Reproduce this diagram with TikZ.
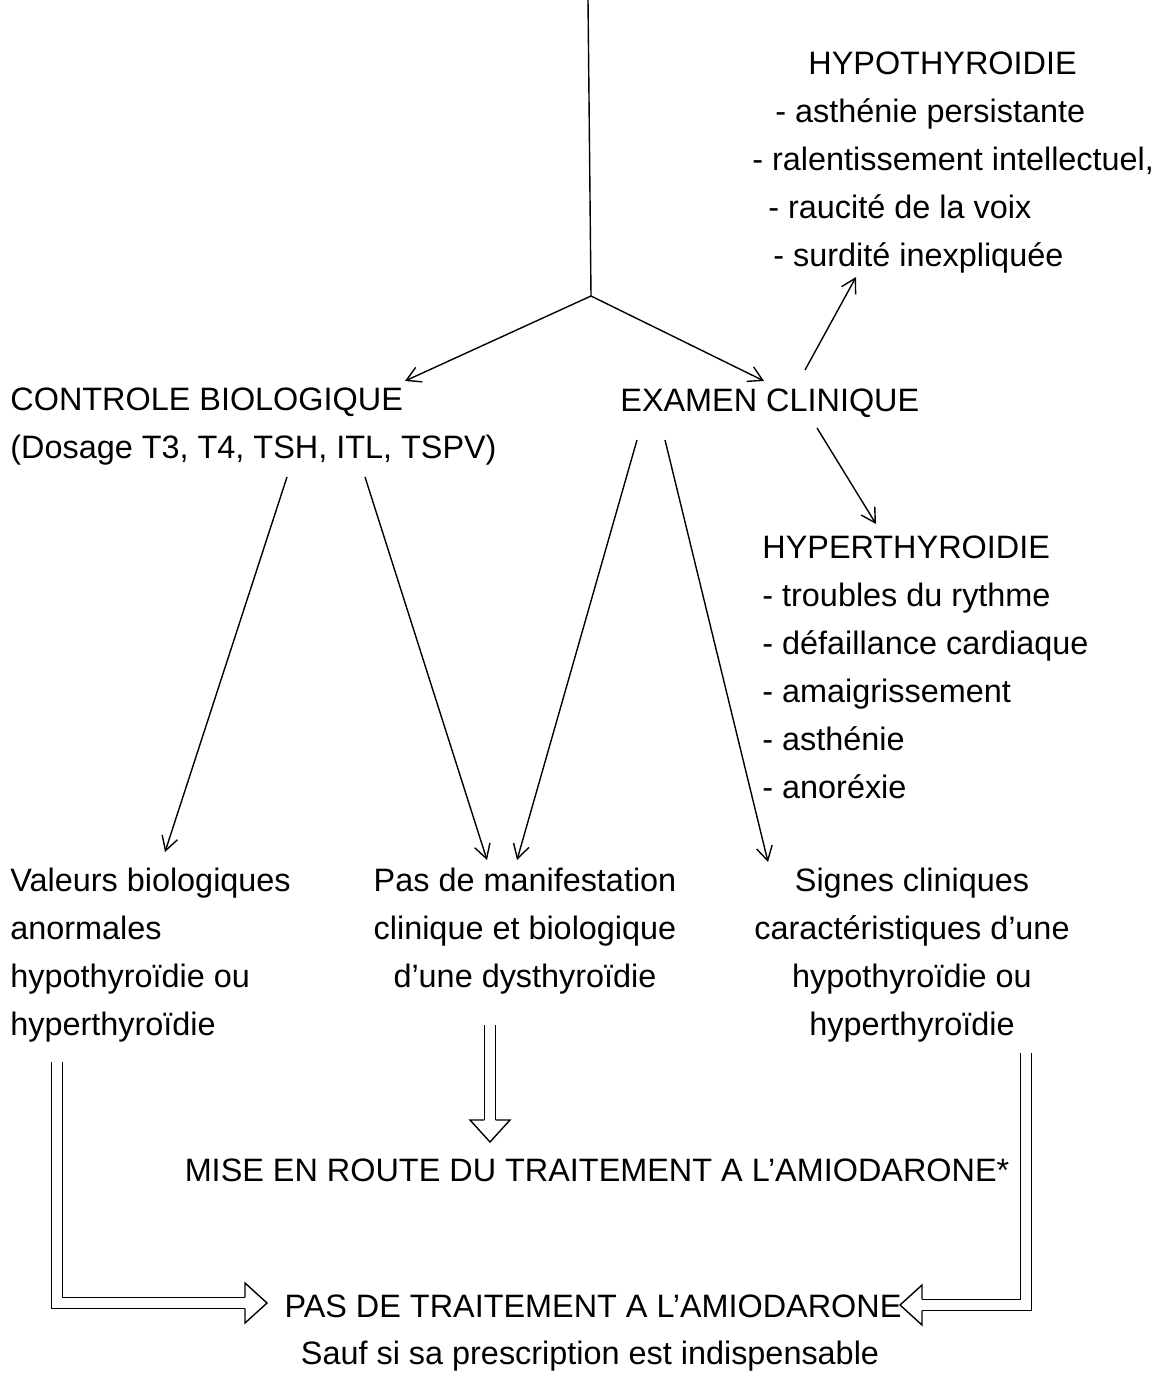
\documentclass[tikz,border=0pt]{standalone}
\usepackage{fontspec}
\setmainfont{Liberation Sans}
\usetikzlibrary{arrows.meta}

% hollow head for the double arrows
\tikzset{
  hhead/.pic={
    \draw[line width=0.7pt, line join=miter] (0pt,2.85pt) -- (0pt,10pt) -- (11pt,0pt) -- (0pt,-10pt) -- (0pt,-2.85pt);
  }
}

\begin{document}
\begin{tikzpicture}[
    x=0.5pt, y=-0.5pt,
    every node/.style={inner sep=0pt, font=\fontsize{16.2}{24}\selectfont},
    txt/.style={align=left, anchor=west},
    ctr/.style={align=center},
    arr/.style={-{Straight Barb[length=7pt,width=8pt]}, line width=0.7pt},
    dbl/.style={double, double distance=5pt, line width=0.7pt}
]
\useasboundingbox (0,0) rectangle (1170,1384);

% texts
\node[txt] (hypo) at (752,163) {\hspace*{28pt}HYPOTHYROIDIE\\\hspace*{11.5pt}- asthénie persistante\\- ralentissement intellectuel,\\\hspace*{8pt}- raucité de la voix\\\hspace*{10.5pt}- surdité inexpliquée};
\node[txt] (ctrl) at (10,427) {CONTROLE BIOLOGIQUE\\(Dosage T3, T4, TSH, ITL, TSPV)};
\node[anchor=west] (exam) at (620,403) {EXAMEN CLINIQUE};
\node[txt] (hyper) at (762,667) {HYPERTHYROIDIE\\- troubles du rythme\\- défaillance cardiaque\\- amaigrissement\\- asthénie\\- anoréxie};
\node[txt] (valeurs) at (10,955) {Valeurs biologiques\\anormales\\hypothyroïdie ou\\hyperthyroïdie};
\node[ctr] (pasman) at (525,931) {Pas de manifestation\\clinique et biologique\\d’une dysthyroïdie};
\node[ctr] (signes) at (912,955) {Signes cliniques\\caractéristiques d’une\\hypothyroïdie ou\\hyperthyroïdie};
\node (mise) at (597,1170) {MISE EN ROUTE DU TRAITEMENT A L’AMIODARONE*};
\node (pastr) at (593,1306) {PAS DE TRAITEMENT A L’AMIODARONE};
\node (sauf) at (590,1356) {Sauf si sa prescription est indispensable};

% connector ends
\coordinate (top) at (588,0);
\coordinate (split) at (591,296);
\coordinate (ctrlin) at (405,381);
\coordinate (examin) at (764,381);
\coordinate (examup) at (805,370);
\coordinate (hypoin) at (856,277);
\coordinate (examdn) at (817,428);
\coordinate (hyperin) at (876,524);
\coordinate (ctrlL) at (287,477);
\coordinate (valin) at (165,852);
\coordinate (ctrlR) at (365,477);
\coordinate (pasin1) at (487,860);
\coordinate (examL) at (637,440);
\coordinate (pasin2) at (517,860);
\coordinate (examR) at (665,440);
\coordinate (sigin) at (768,862);
\coordinate (lsrc) at (57,1062);
\coordinate (lhead) at (245,1303);
\coordinate (rsrc) at (1026,1053);
\coordinate (rhead) at (922,1305);
\coordinate (msrc) at (490,1025);
\coordinate (mhead) at (490,1120);

% arrows
\draw[line width=0.7pt] (top) -- (split);
\draw[arr] (split) -- (ctrlin);
\draw[arr] (split) -- (examin);
\draw[arr] (examup) -- (hypoin);
\draw[arr] (examdn) -- (hyperin);
\draw[arr] (ctrlL) -- (valin);
\draw[arr] (ctrlR) -- (pasin1);
\draw[arr] (examL) -- (pasin2);
\draw[arr] (examR) -- (sigin);

% double arrows
\draw[dbl] (lsrc) |- (lhead);
\pic at (lhead) {hhead};
\draw[dbl] (rsrc) |- (rhead);
\pic[rotate=180] at (rhead) {hhead};
\draw[dbl] (msrc) -- (mhead);
\pic[rotate=-90] at (mhead) {hhead};
\end{tikzpicture}
\end{document}
